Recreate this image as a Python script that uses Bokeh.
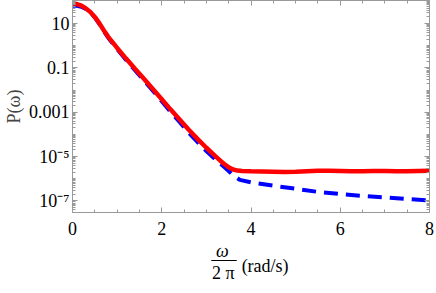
from bokeh.plotting import figure
from bokeh.layouts import column
from bokeh.models import (Range1d, LogAxis, LinearAxis, FixedTicker, SingleIntervalTicker,
                          CustomJSTickFormatter)
from bokeh.core.properties import value
from bokeh.embed import file_html
from bokeh.resources import INLINE

# ---- data (log10 of P) ----
freq_red = [0.0, 0.1, 0.2, 0.3, 0.4, 0.5, 0.6, 0.7, 0.8, 1.0, 1.2, 1.4, 1.6, 1.8, 2.0,
            2.2, 2.4, 2.6, 2.8, 3.0, 3.2, 3.3, 3.4, 3.5, 3.6, 3.7, 3.8, 4.0, 4.25, 4.5,
            4.75, 5.0, 5.25, 5.5, 5.75, 6.0, 6.25, 6.5, 6.75, 7.0, 7.25, 7.5, 7.75, 8.0]
log10_P_red = [1.91, 1.88, 1.81, 1.68, 1.52, 1.30, 1.02, 0.70, 0.40, -0.10, -0.58, -1.04,
               -1.49, -1.95, -2.41, -2.88, -3.33, -3.78, -4.20, -4.60, -4.98, -5.16, -5.33,
               -5.48, -5.58, -5.63, -5.65, -5.66, -5.67, -5.68, -5.69, -5.68, -5.66, -5.64,
               -5.64, -5.65, -5.66, -5.66, -5.65, -5.65, -5.66, -5.66, -5.65, -5.64]

freq_blue = [0.0, 0.1, 0.2, 0.3, 0.4, 0.5, 0.6, 0.7, 0.8, 1.0, 1.2, 1.4, 1.6, 1.8, 2.0,
             2.2, 2.4, 2.6, 2.8, 3.0, 3.2, 3.3, 3.4, 3.5, 3.6, 3.75, 4.0, 4.5, 5.0, 5.5,
             6.0, 6.5, 7.0, 7.5, 8.0]
log10_P_blue = [1.80, 1.80, 1.76, 1.65, 1.50, 1.28, 0.99, 0.66, 0.36, -0.15, -0.64, -1.10,
                -1.56, -2.03, -2.50, -2.98, -3.44, -3.91, -4.34, -4.75, -5.12, -5.30, -5.47,
                -5.65, -5.84, -6.05, -6.16, -6.31, -6.45, -6.59, -6.69, -6.77, -6.84, -6.91,
                -6.98]

x_major = [0, 2, 4, 6, 8]
y_major = [1e1, 1e-1, 1e-3, 1e-5, 1e-7]

# x-axis title pieces: omega over 2 pi, then the unit
xlabel_parts = ["\u03C9", "2 \u03C0", "(rad/s)"]

P_red = [10 ** v for v in log10_P_red]
P_blue = [10 ** v for v in log10_P_blue]

FONT = "Liberation Serif"
FS = "18px"
AX = "#999999"

p = figure(frame_width=357, frame_height=212, x_range=Range1d(0, 8),
           y_range=Range1d(10 ** -7.52, 10 ** 2.04), y_axis_type="log",
           output_backend="svg", toolbar_location=None,
           min_border_left=65, min_border_right=6, min_border_top=0, min_border_bottom=0)
p.outline_line_color = None
p.xgrid.visible = False
p.ygrid.visible = False

y_minor = [m * 10.0 ** e for e in range(-8, 3) for m in range(1, 10)
           if not (m == 1 and (10.0 ** e) in y_major)]
yt = FixedTicker(ticks=y_major, minor_ticks=y_minor)
xt = SingleIntervalTicker(interval=2, num_minor_ticks=4)

fmt = CustomJSTickFormatter(code="""
const e = Math.round(Math.log10(tick));
if (e >= 0) return tick.toFixed(0);
if (e >= -3) return tick.toFixed(-e);
const sup = {'-':'\u207B','0':'\u2070','1':'\u00B9','2':'\u00B2','3':'\u00B3','4':'\u2074','5':'\u2075','6':'\u2076','7':'\u2077','8':'\u2078','9':'\u2079'};
return '10' + String(e).split('').map(c => sup[c]).join('');
""")
blank = CustomJSTickFormatter(code="return '';")

def style(ax, labels=True):
    ax.axis_line_color = AX
    ax.major_tick_line_color = AX
    ax.minor_tick_line_color = AX
    ax.major_tick_in = 5
    ax.major_tick_out = 0
    ax.minor_tick_in = 3
    ax.minor_tick_out = 0
    ax.major_label_text_font = FONT
    ax.major_label_text_font_size = FS
    ax.major_label_text_color = "black"
    if not labels:
        ax.formatter = blank
        ax.major_label_standoff = 0

p.yaxis.ticker = yt
p.yaxis.formatter = fmt
style(p.yaxis[0])
p.yaxis.major_label_standoff = 3
p.yaxis.axis_label = "P(\u03C9)"
p.yaxis.axis_label_text_font = FONT
p.yaxis.axis_label_text_font_size = FS
p.yaxis.axis_label_text_font_style = "normal"
p.yaxis.axis_label_standoff = 2

p.xaxis.ticker = xt
style(p.xaxis[0])
p.xaxis.major_label_standoff = 9

right = LogAxis(ticker=yt)
style(right, labels=False)
p.add_layout(right, "right")

top = LinearAxis(ticker=xt)
style(top, labels=False)
p.add_layout(top, "above")

p.line(freq_blue, P_blue, line_color="#0000ff", line_width=4, line_dash="14 8")
p.line(freq_red, P_red, line_color="#ff0000", line_width=4.5)

# ---- strip below the plot holding the fractional x-axis title ----
q = figure(frame_width=357, frame_height=45, x_range=p.x_range, y_range=Range1d(-45, 0),
           output_backend="svg", toolbar_location=None,
           min_border_left=65, min_border_right=6, min_border_top=0, min_border_bottom=0)
q.axis.visible = False
q.xgrid.visible = False
q.ygrid.visible = False
q.outline_line_color = None
q.text(x=[3.36], y=[-13], text=[xlabel_parts[0]], text_font=value(FONT),
       text_font_size=value(FS), text_font_style="italic",
       text_align="center", text_baseline="middle", text_color="black")
q.segment(x0=[3.11], y0=[-23], x1=[3.68], y1=[-23], line_color="black", line_width=1)
q.text(x=[3.38], y=[-35], text=[xlabel_parts[1]], text_font=value(FONT),
       text_font_size=value(FS), text_align="center", text_baseline="middle",
       text_color="black")
q.text(x=[3.79], y=[-28], text=[xlabel_parts[2]], text_font=value(FONT),
       text_font_size=value(FS), text_align="left", text_baseline="middle",
       text_color="black")

layout = column(p, q, spacing=0)
open("out.html", "w").write(file_html(layout, INLINE))
